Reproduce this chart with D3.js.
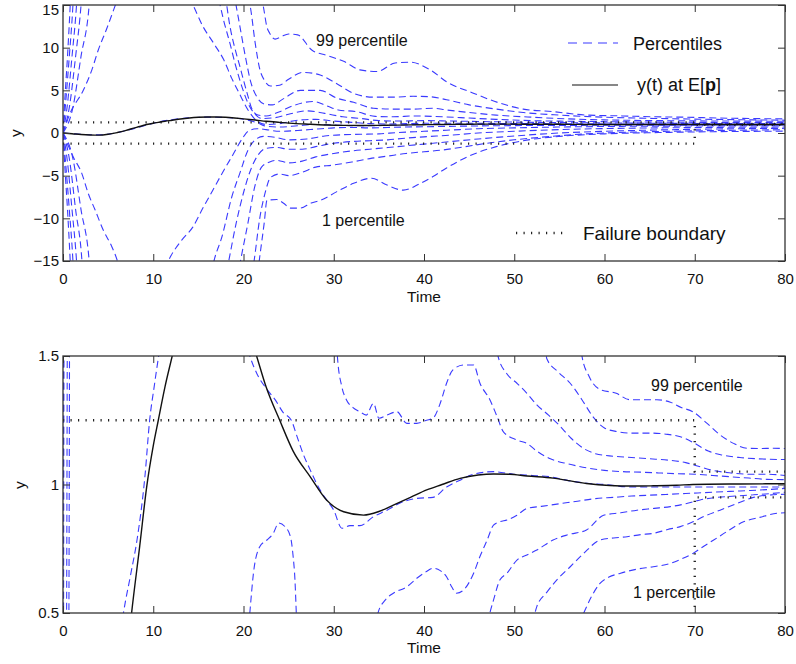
<!DOCTYPE html>
<html><head><meta charset="utf-8">
<script src="https://cdn.jsdelivr.net/npm/d3@7"></script>
<style>
body{margin:0;background:#fff}
svg{display:block}
text{font-family:"Liberation Sans",Arial,Helvetica,sans-serif;fill:#111}
</style>
</head><body>
<svg id="c" width="796" height="664"></svg>
<script>
// ---------- data ----------
const timeTicks = [0,10,20,30,40,50,60,70,80];
const topYTicks = [-15,-10,-5,0,5,10,15];
const bottomYTicks = [0.5,1,1.5];

// y(t) at E[p]  [time, y]
const meanResponse = [[0,0],[1,-0.08],[2,-0.17],[3,-0.23],[4,-0.25],[5,-0.15],[6,0.05],[7,0.3],[7.6,0.5],[8.5,0.76],[9.27,0.99],[10,1.15],[10.56,1.25],[11.3,1.38],[12.1,1.5],[13,1.64],[14,1.76],[15,1.84],[16,1.88],[17,1.88],[18,1.84],[19,1.76],[20,1.66],[21.45,1.5],[22.5,1.38],[24,1.251],[25.5,1.13],[27.4,1.03],[29.2,0.94],[31.1,0.894],[33.3,0.881],[35,0.895],[36.6,0.92],[38.5,0.95],[40.3,0.979],[42,1.0],[44,1.024],[46,1.037],[47.7,1.041],[49.5,1.04],[51.4,1.033],[54.3,1.025],[56,1.015],[58,1.004],[60.6,0.996],[63,0.994],[65.4,0.995],[68,0.997],[69.8,1.0],[75,1.002],[80,1.003]];

// failure boundary
const failureUpper = [[0,1.25],[70,1.25],[70,1.05],[80,1.05]];
const failureLower = [[0,-1.25],[70,-1.25],[70,0.95],[80,0.95]];

// ---- top panel percentiles [time, y] ----
const topP99 = [[0,0],[0.15,3],[0.5,9],[0.8,15],[1.2,25],[20,25],[21.4,18],[22.2,14.8],[22.6,12.4],[22.9,11.7],[23.5,11.0],[24.2,11.3],[25,11.6],[26,11.5],[27.6,9.7],[29.2,9.1],[31.1,8.4],[32.9,7.4],[34.8,7.2],[36.8,8.2],[38.4,8.3],[40.7,7.4],[42.5,6.0],[45.4,4.7],[48.4,3.5],[51,2.8],[54.3,2.5],[58,2.1],[62,2.0],[65.4,1.9],[69,1.85],[72.8,1.75],[76,1.7],[80,1.65]];
const topP95 = [[0,0],[0.25,3],[0.7,9],[1.1,15],[1.5,25],[19,25],[20.3,17],[20.8,14.5],[21.3,10.5],[21.8,7.5],[22.3,6.2],[23,5.5],[24,5.6],[25,6.3],[26.6,7.1],[28.5,6.8],[30.3,5.8],[32.2,4.65],[34.4,4.2],[36.6,4.2],[38.8,4.3],[40.7,4.25],[42.5,3.9],[45,3.3],[48,2.8],[51,2.4],[55,2.1],[60,1.85],[66,1.7],[72,1.6],[80,1.5]];
const topP90 = [[0,0],[0.45,3],[1.0,9],[1.5,15],[2,25],[17.5,25],[19.0,16],[19.6,12.5],[20.2,9],[20.8,6],[21.5,4.2],[22.3,3.4],[23.2,3.3],[24.4,4.0],[26.3,5.0],[28.5,5.0],[30.3,4.1],[32.2,3.6],[34.4,2.9],[36.6,2.8],[38.8,2.8],[41,2.9],[42.5,2.7],[45,2.4],[48,2.1],[52,1.85],[56,1.65],[62,1.5],[70,1.42],[80,1.38]];
const topP80 = [[0,0],[0.7,3],[1.4,9],[2.0,15],[2.6,25],[16.5,25],[18.0,16],[18.5,12.5],[19.1,9.7],[19.6,7.8],[20.0,6.2],[20.5,4.3],[20.9,2.9],[21.6,2.1],[22.5,2.0],[24,2.5],[25.5,3.2],[27.7,3.7],[29.2,3.2],[30.5,2.7],[32.5,2.5],[34.6,1.95],[36.6,1.9],[39,2.0],[42,1.9],[45,1.75],[48,1.6],[52,1.45],[58,1.35],[65,1.28],[72,1.24],[80,1.22]];
const topP70 = [[0,0],[1.1,3],[2.0,9],[2.9,15],[3.5,25],[15.5,25],[17.2,16],[17.8,13.2],[18.5,10.5],[19.1,8.0],[19.8,5.5],[20.5,3.5],[21.2,2.3],[22,1.7],[23.5,1.8],[25,2.2],[27,2.6],[29,2.3],[31,1.9],[33,1.7],[35,1.45],[37,1.4],[40,1.45],[43,1.4],[46,1.35],[50,1.28],[55,1.22],[60,1.18],[68,1.13],[80,1.1]];
const topP60 = [[0,0],[0.78,2.3],[2.25,5.0],[3.2,7.4],[3.9,9.7],[4.8,12.1],[5.6,14.4],[6.5,17],[8,20],[10,21],[12,19],[13.5,16.8],[14.4,15],[15.5,12.5],[16.7,10.5],[17.8,8.6],[18.7,6.4],[19.6,4.5],[20.5,2.7],[21.5,1.4],[22.5,1.0],[24,1.1],[26,1.5],[28,1.6],[30,1.4],[32,1.25],[34,1.1],[36,1.05],[38,1.1],[41,1.15],[44,1.15],[48,1.12],[52,1.1],[58,1.07],[65,1.05],[72,1.04],[80,1.03]];
const topP50 = [[0,0],[2,-0.15],[4,-0.22],[6,0.05],[8,0.55],[10,1.15],[12,1.55],[14,1.78],[16,1.86],[18,1.82],[20,1.62],[21.5,1.2],[22.5,0.8],[24,0.7],[26,0.85],[28,1.0],[30,0.95],[32,0.85],[34,0.85],[36,0.9],[38,0.95],[40,1.0],[43,1.0],[46,1.0],[50,1.0],[55,1.0],[60,1.0],[65,0.99],[70,1.0],[80,1.0]];
const topP40 = [[0,0],[1.14,-2.8],[2.07,-4.7],[2.8,-7.1],[3.55,-9.0],[4.47,-11.4],[5.4,-13.3],[5.8,-14.3],[6.5,-16.5],[8,-19.5],[9.5,-19.5],[10.8,-17],[11.9,-14.5],[13.2,-12.5],[14.4,-11],[15.5,-8.8],[16.6,-6.7],[17.7,-4.6],[18.8,-2.6],[19.9,-0.6],[20.5,0.2],[21.5,0.5],[22.5,0.4],[24,0.2],[26,0.3],[28,0.45],[30,0.6],[32,0.65],[34,0.6],[36,0.65],[38,0.7],[41,0.75],[44,0.8],[48,0.85],[52,0.88],[58,0.9],[65,0.92],[72,0.93],[80,0.94]];
const topP30 = [[0,0],[1.1,-3],[2.0,-9],[2.9,-15],[3.5,-25],[15,-25],[16.8,-14.7],[17.6,-12.2],[18.7,-7.5],[19.6,-4.7],[20.5,-2.0],[21.3,-0.8],[22.2,-0.4],[23.5,-0.5],[25,-0.8],[27,-0.7],[29,-0.35],[31,-0.2],[33,-0.15],[35,-0.1],[37,0.05],[40,0.2],[43,0.35],[46,0.5],[50,0.6],[55,0.7],[62,0.78],[70,0.82],[80,0.85]];
const topP20 = [[0,0],[0.7,-3],[1.4,-9],[2.1,-15],[2.6,-25],[16.5,-25],[18.4,-14.8],[19.2,-10.5],[20,-7],[20.8,-4.3],[21.6,-2.6],[22.5,-1.8],[23.7,-1.7],[25,-1.9],[26.5,-1.9],[28,-1.6],[30,-1.2],[32,-1.0],[34,-0.9],[36,-0.8],[38,-0.6],[40,-0.45],[43,-0.25],[46,0.0],[50,0.2],[55,0.4],[60,0.52],[68,0.62],[80,0.7]];
const topP10 = [[0,0],[0.45,-3],[1.0,-9],[1.5,-15],[2,-25],[18,-25],[19.7,-14.8],[20.5,-10.5],[21.2,-6.5],[22,-4.0],[22.9,-3.4],[23.7,-3.2],[25,-3.5],[26.5,-3.3],[28,-2.8],[30,-2.4],[32,-2.1],[34,-1.9],[36,-1.7],[38,-1.5],[40,-1.3],[43,-1.0],[46,-0.7],[50,-0.35],[55,0.0],[60,0.2],[68,0.4],[80,0.55]];
const topP5 = [[0,0],[0.25,-3],[0.7,-9],[1.1,-15],[1.5,-25],[19.5,-25],[21.2,-14.8],[21.8,-10],[22.4,-7],[23,-5.2],[24,-4.8],[25,-5.0],[26.5,-4.6],[28,-4.0],[30,-3.75],[32,-3.4],[34,-3.0],[36,-2.7],[38,-2.4],[40,-2.2],[42,-2.0],[44,-1.7],[47,-1.2],[50,-0.8],[54,-0.4],[58,-0.1],[63,0.1],[70,0.25],[80,0.38]];
const topP1 = [[0,0],[0.15,-3],[0.5,-9],[0.8,-15],[1.2,-25],[20.5,-25],[21.8,-14.5],[22.3,-10.5],[22.6,-7.9],[23.7,-7.8],[24.4,-8.2],[25.2,-8.8],[26.3,-8.8],[27.5,-8.2],[28.5,-7.9],[30.3,-6.9],[32.2,-5.9],[34.2,-5.3],[35.9,-6.1],[37.7,-6.7],[39.6,-5.9],[41,-5.1],[42.5,-4.1],[45,-2.7],[48,-1.6],[51,-0.9],[55,-0.4],[60,-0.1],[66,0.05],[72,0.15],[80,0.22]];

// ---- bottom panel percentiles [time, y] ----
const botP99 = [[0,0],[0.12,3],[0.8,30],[55,30],[56.8,2],[57.5,1.5],[58.3,1.42],[59.5,1.37],[61.3,1.355],[62.8,1.33],[64.3,1.33],[65.8,1.33],[67.3,1.32],[68.5,1.3],[69.8,1.283],[71.3,1.24],[72.8,1.193],[74.3,1.16],[75.8,1.141],[77.2,1.14],[78.7,1.141],[80,1.14]];
const botP95 = [[0,0],[0.35,0.2],[0.55,3],[1.3,30],[51.5,30],[53.2,2],[53.6,1.49],[54.8,1.44],[56.2,1.394],[57.5,1.33],[58.8,1.26],[60,1.22],[61.5,1.205],[63,1.2],[65,1.2],[67,1.195],[68.5,1.185],[70,1.16],[71.5,1.13],[73,1.115],[75,1.105],[77,1.1],[80,1.097]];
const botP90 = [[0,0],[0.6,0.15],[0.8,3],[1.6,30],[46,30],[47.7,2],[48.2,1.5],[49.2,1.43],[50.3,1.394],[51.4,1.355],[52.5,1.31],[53.8,1.27],[55,1.23],[56.3,1.18],[57.7,1.14],[59,1.12],[61,1.11],[63,1.105],[65,1.1],[67,1.095],[69,1.085],[70.5,1.07],[72,1.055],[74,1.045],[76,1.04],[78,1.04],[80,1.035]];
const botP80 = [[0,0],[0.05,0.3],[0.15,3],[0.9,30],[28,30],[29.8,2],[30.4,1.5],[30.9,1.38],[31.4,1.33],[32.1,1.3],[32.9,1.283],[33.6,1.27],[34.4,1.316],[35,1.258],[35.9,1.27],[37,1.283],[38.1,1.238],[39.2,1.238],[40.3,1.25],[41,1.258],[41.8,1.316],[42.5,1.394],[43.2,1.446],[44.4,1.465],[45.5,1.465],[46.2,1.394],[47.3,1.33],[48.1,1.264],[48.8,1.205],[50.3,1.173],[51.4,1.16],[52.5,1.13],[54,1.1],[56,1.08],[58,1.065],[60,1.055],[62,1.05],[64,1.048],[66,1.045],[68,1.042],[70,1.04],[72,1.035],[74,1.03],[76,1.025],[78,1.02],[80,1.019]];
const botP60 = [[0,0],[2,-0.2],[4,-0.15],[5.5,0.15],[6.7,0.5],[7.5,0.65],[8.2,0.784],[9.1,1.04],[9.6,1.25],[10.1,1.38],[10.6,1.5],[12,1.75],[15,1.95],[18,1.85],[19.8,1.62],[20.7,1.5],[21.5,1.43],[22.6,1.37],[23.5,1.33],[24.4,1.28],[25.3,1.25],[25.9,1.19],[26.6,1.12],[27.4,1.056],[28.3,0.99],[29.2,0.94],[30,0.9],[30.9,0.83],[31.8,0.84],[32.9,0.84],[34.4,0.875],[35.9,0.9],[37.3,0.927],[39.2,0.946],[41,0.95],[42.5,0.99],[44,1.017],[45.5,1.04],[47.7,1.05],[49.9,1.04],[52,1.035],[54,1.03],[56,1.015],[58,1.005],[60,1.0],[63,0.99],[66,0.99],[70,0.99],[75,0.99],[80,0.99]];
const botP40 = [[0,0],[3,-2],[8,-4],[14,-3],[18,-1],[19.8,0.1],[20.7,0.5],[21.1,0.654],[21.8,0.758],[22.6,0.784],[23.3,0.81],[23.9,0.85],[24.6,0.836],[25.2,0.797],[25.5,0.72],[25.7,0.63],[25.85,0.5],[26.5,0],[29,-0.6],[32,-0.3],[34,0.3],[34.9,0.5],[35.7,0.55],[36.6,0.577],[38.1,0.602],[39.2,0.635],[40.2,0.66],[41,0.674],[41.8,0.665],[42.5,0.641],[43.1,0.6],[43.6,0.577],[44.4,0.59],[45.5,0.655],[46.2,0.72],[47,0.784],[47.7,0.842],[48.4,0.855],[49.2,0.862],[50.3,0.88],[51.4,0.907],[53,0.915],[55,0.925],[57,0.935],[59,0.945],[61,0.95],[63,0.955],[66,0.96],[69,0.965],[72,0.97],[75,0.975],[78,0.98],[80,0.985]];
const botP20 = [[0,0],[5,-3],[20,-4],[35,-2],[44,-0.3],[46.5,0.35],[47.3,0.5],[47.7,0.55],[48.4,0.628],[49.2,0.655],[50.3,0.706],[51.4,0.726],[52.5,0.745],[54.3,0.784],[56,0.805],[58,0.823],[59.9,0.88],[61.8,0.89],[63.6,0.9],[65.5,0.907],[67.3,0.914],[69,0.925],[70.6,0.94],[72.5,0.95],[74.5,0.955],[76.5,0.96],[78.5,0.965],[80,0.97]];
const botP10 = [[0,0],[10,-4],[30,-3],[48,-0.5],[51.5,0.35],[52.5,0.525],[53.6,0.58],[54.7,0.628],[56.2,0.68],[57.7,0.732],[59.5,0.784],[61,0.792],[62.5,0.797],[64,0.805],[65.4,0.81],[67,0.825],[68.4,0.836],[69.8,0.855],[71.3,0.88],[72.8,0.9],[74.6,0.925],[76.5,0.95],[78.7,0.96],[80,0.962]];
const botP1 = [[0,0],[10,-5],[30,-4],[50,-1],[55,0.2],[57,0.45],[57.7,0.5],[58.5,0.56],[59.5,0.615],[60.5,0.64],[61.7,0.654],[63.5,0.67],[65.4,0.68],[67.3,0.693],[68.5,0.71],[69.8,0.732],[71,0.76],[72.1,0.784],[73.7,0.82],[75.4,0.855],[77.2,0.872],[79.1,0.888],[80,0.89]];

const topPercentiles = [topP99,topP95,topP90,topP80,topP70,topP60,topP50,topP40,topP30,topP20,topP10,topP5,topP1];
const bottomPercentiles = [botP99,botP95,botP90,botP80,botP60,botP40,botP20,botP10,botP1];

// ---------- drawing ----------
const svg = d3.select('#c');
const x = d3.scaleLinear().domain([0,80]).range([63,785]);
const yTop = d3.scaleLinear().domain([-15,15]).range([261,5]);
const yBot = d3.scaleLinear().domain([0.5,1.5]).range([613,356]);

const BLUE = '#3a3aff';
const minusFmt = d => (d < 0 ? '\u2212' + Math.abs(d) : String(d));

function panel(id, y, yTicks, curves, fmt) {
  const g = svg.append('g');
  const [x0, x1] = x.range();
  const [yb, yt] = y.range();
  g.append('clipPath').attr('id', id).append('rect')
    .attr('x', x0).attr('y', yt).attr('width', x1 - x0).attr('height', yb - yt);
  const smooth = d3.line().x(d => x(d[0])).y(d => y(d[1])).curve(d3.curveMonotoneX);
  const straight = d3.line().x(d => x(d[0])).y(d => y(d[1]));
  const plot = g.append('g').attr('clip-path', `url(#${id})`);

  curves.forEach(c => plot.append('path').attr('d', smooth(c))
    .attr('fill', 'none').attr('stroke', BLUE).attr('stroke-width', 1.1)
    .attr('stroke-dasharray', '7,4'));

  [failureUpper, failureLower].forEach(b => plot.append('path').attr('d', straight(b))
    .attr('fill', 'none').attr('stroke', '#222').attr('stroke-width', 2.4)
    .attr('stroke-dasharray', '1.2,6.3'));

  plot.append('path').attr('d', smooth(meanResponse))
    .attr('fill', 'none').attr('stroke', '#111').attr('stroke-width', 1.4);

  // axes (inward ticks on all sides)
  const style = a => {
    a.select('.domain').remove();
    a.selectAll('line').attr('stroke', '#333');
    a.selectAll('text').attr('fill', '#111').style('font-size', '15px')
      .style('font-family', '"Liberation Sans",Arial,sans-serif');
  };
  g.append('g').attr('transform', `translate(0,${yb})`)
    .call(d3.axisBottom(x).tickValues(timeTicks).tickSizeInner(-7).tickSizeOuter(0).tickPadding(12).tickFormat(d3.format('d')))
    .call(style);
  g.append('g').attr('transform', `translate(0,${yt})`)
    .call(d3.axisTop(x).tickValues(timeTicks).tickSizeInner(-7).tickSizeOuter(0).tickFormat(''))
    .call(style);
  const left = g.append('g').attr('transform', `translate(${x0},0)`)
    .call(d3.axisLeft(y).tickValues(yTicks).tickSizeInner(-7).tickSizeOuter(0).tickPadding(4).tickFormat(fmt))
    .call(style);
  // keep the topmost tick label inside the picture
  left.selectAll('.tick text').filter(d => y(d) < 8).attr('dy', '0.64em');
  g.append('g').attr('transform', `translate(${x1},0)`)
    .call(d3.axisRight(y).tickValues(yTicks).tickSizeInner(-7).tickSizeOuter(0).tickFormat(''))
    .call(style);

  g.append('rect').attr('x', x0).attr('y', yt).attr('width', x1 - x0).attr('height', yb - yt)
    .attr('fill', 'none').attr('stroke', '#333').attr('stroke-width', 1.3);
  return g;
}

panel('clipTop', yTop, topYTicks, topPercentiles, minusFmt);
panel('clipBot', yBot, bottomYTicks, bottomPercentiles, d => String(d));

// axis titles
const addText = (t, xx, yy, size, opts = {}) => {
  const el = svg.append('text').attr('x', xx).attr('y', yy).style('font-size', size + 'px').text(t);
  if (opts.anchor) el.attr('text-anchor', opts.anchor);
  return el;
};
addText('Time', 424, 302, 15.5, {anchor: 'middle'});
addText('Time', 424, 653, 15.5, {anchor: 'middle'});
svg.append('text').attr('transform', 'translate(21,133) rotate(-90)').attr('text-anchor', 'middle')
  .style('font-size', '15.5px').text('y');
svg.append('text').attr('transform', 'translate(25,485) rotate(-90)').attr('text-anchor', 'middle')
  .style('font-size', '15.5px').text('y');

// percentile annotations
addText('99 percentile', 316, 46, 16);
addText('1 percentile', 322, 226, 16);
addText('99 percentile', 651, 391, 16);
addText('1 percentile', 633, 598, 16);

// legend (top panel)
svg.append('line').attr('x1', 568).attr('x2', 618).attr('y1', 43).attr('y2', 43)
  .attr('stroke', BLUE).attr('stroke-width', 1.1).attr('stroke-dasharray', '9,6');
addText('Percentiles', 633, 49.5, 18);
svg.append('line').attr('x1', 572).attr('x2', 618).attr('y1', 85).attr('y2', 85)
  .attr('stroke', '#111').attr('stroke-width', 1.2);
const lg = svg.append('text').attr('x', 637).attr('y', 91).style('font-size', '18px');
lg.append('tspan').text('y(t) at E[');
lg.append('tspan').style('font-weight', 'bold').text('p');
lg.append('tspan').text(']');
svg.append('line').attr('x1', 516).attr('x2', 563).attr('y1', 233).attr('y2', 233)
  .attr('stroke', '#222').attr('stroke-width', 2.4).attr('stroke-dasharray', '1.2,6.3');
addText('Failure boundary', 583, 240, 19);
</script>
</body></html>
